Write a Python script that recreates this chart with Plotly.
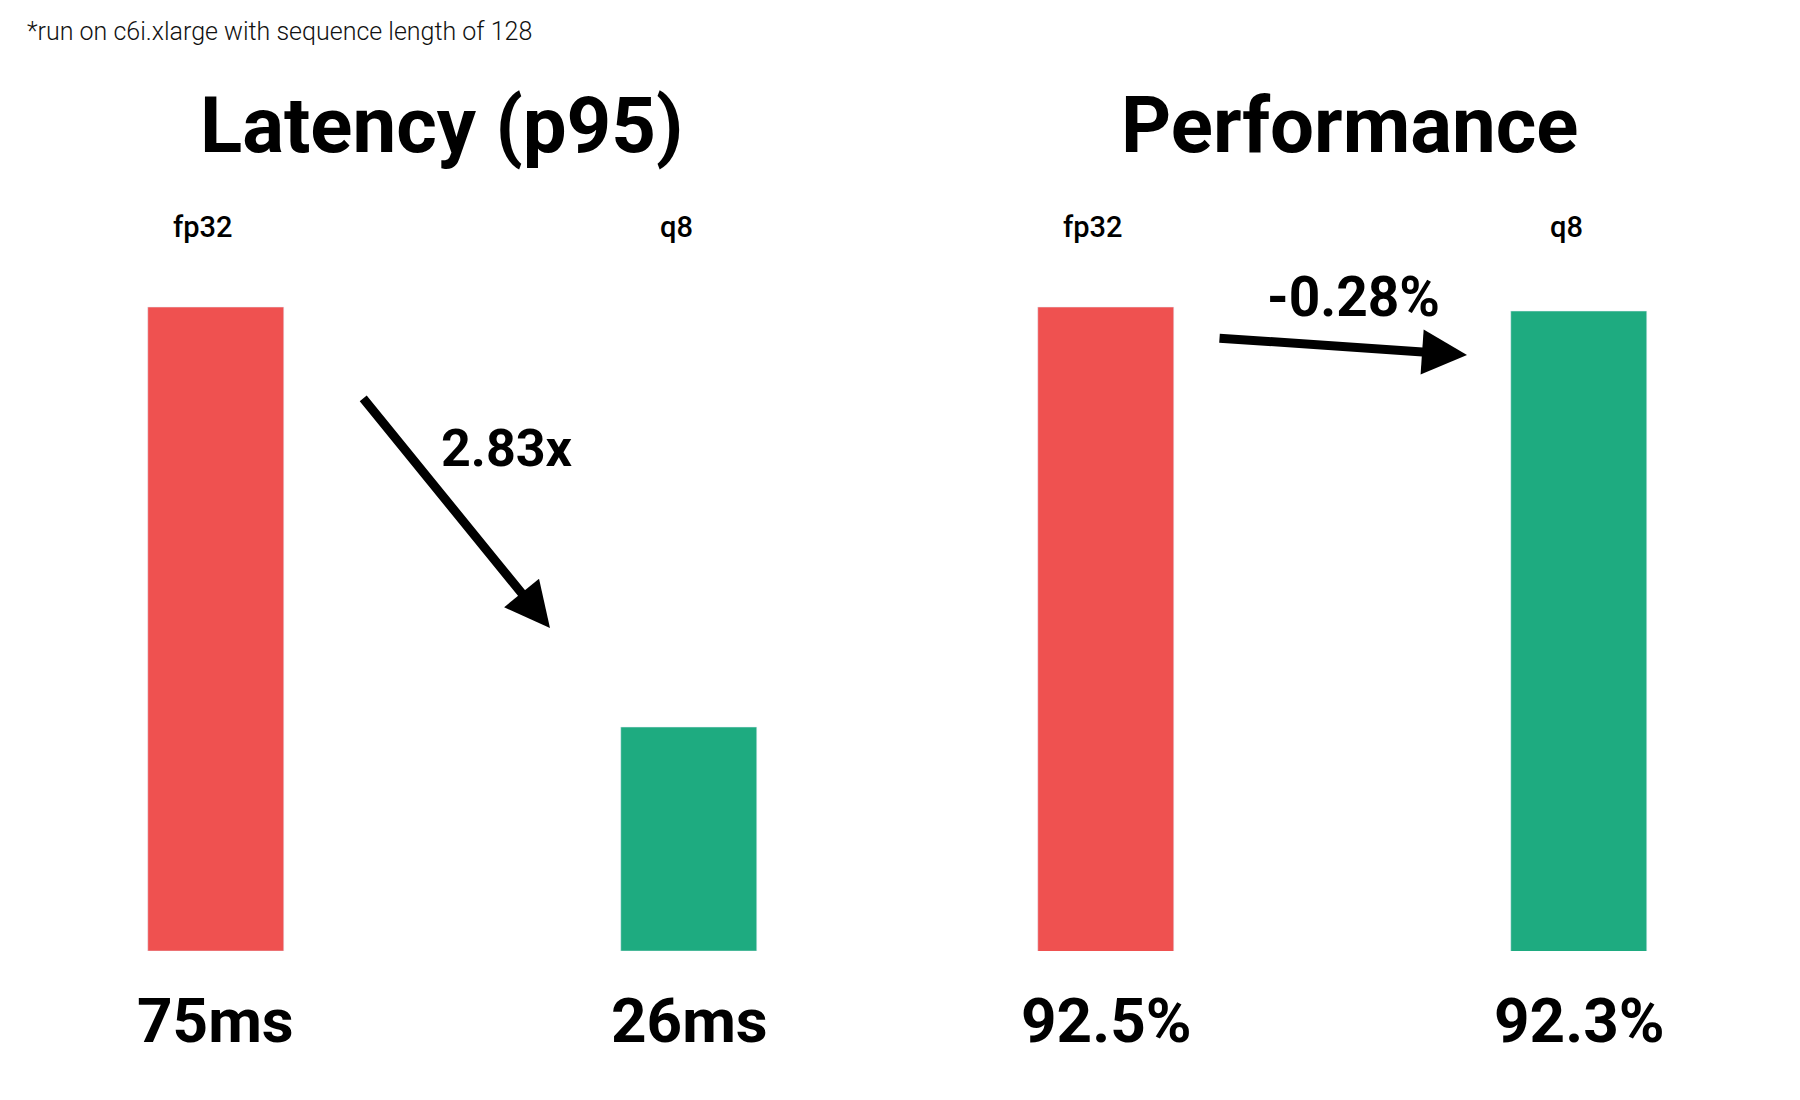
import plotly.graph_objects as go

# data
models = ["fp32", "q8"]
latency_ms = [75, 26]
performance_pct = [92.5, 92.3]
latency_labels = ["75ms", "26ms"]
performance_labels = ["92.5%", "92.3%"]
speedup_label = "2.83x"
perf_change_label = "-0.28%"
note = "*run on c6i.xlarge with sequence length of 128"

RED = "#ef5150"
GREEN = "#1eab80"
FONT = "Roboto"
bar_colors = [RED, GREEN]

fig = go.Figure()

fig.add_trace(
    go.Bar(x=models, y=latency_ms, width=0.2875, marker_color=bar_colors,
           xaxis="x", yaxis="y", hoverinfo="skip")
)
fig.add_trace(
    go.Bar(x=models, y=performance_pct, width=0.2875, marker_color=bar_colors,
           xaxis="x2", yaxis="y2", hoverinfo="skip")
)

hidden = dict(visible=False, showgrid=False, zeroline=False, fixedrange=True)

annotations = []

# note at the top left
annotations.append(dict(
    text=note, xref="paper", yref="paper", x=0.0094, y=0.979,
    xanchor="left", yanchor="middle", showarrow=False,
    font=dict(family=FONT, size=25, color="#111", weight=300),
))

# panel titles
for title, xc in [("Latency (p95)", 0.2411), ("Performance", 0.745)]:
    annotations.append(dict(
        text=title, xref="paper", yref="paper", x=xc, y=0.893,
        xanchor="center", yanchor="middle", showarrow=False,
        font=dict(family=FONT, size=78, color="#000", weight=700),
    ))

# category names above, values below
for ax, labels in [("x", latency_labels), ("x2", performance_labels)]:
    for m, lab in zip(models, labels):
        annotations.append(dict(
            text=m, xref=ax, yref="paper", x=m, y=0.801, xshift=-13,
            xanchor="center", yanchor="middle", showarrow=False,
            font=dict(family=FONT, size=29, color="#000", weight=500),
        ))
        annotations.append(dict(
            text=lab, xref=ax, yref="paper", x=m, y=0.0796,
            xanchor="center", yanchor="middle", showarrow=False,
            font=dict(family=FONT, size=62, color="#000", weight=700),
        ))

# arrows
annotations.append(dict(
    text="", xref="x", yref="y", axref="x", ayref="y",
    x=0.7061, y=37.62, ax=0.3087, ay=64.52,
    showarrow=True, arrowhead=2, arrowsize=1, arrowwidth=9, arrowcolor="#000",
))
annotations.append(dict(
    text=speedup_label, xref="x", yref="y", x=0.6152, y=58.5,
    showarrow=False, xanchor="center", yanchor="middle",
    font=dict(family=FONT, size=52, color="#000", weight=700),
))
annotations.append(dict(
    text="", xref="x2", yref="y2", axref="x2", ayref="y2",
    x=0.7632, y=90.07, ax=0.2368, ay=90.93,
    showarrow=True, arrowhead=2, arrowsize=1, arrowwidth=9, arrowcolor="#000",
))
annotations.append(dict(
    text=perf_change_label, xref="x2", yref="y2", x=0.5222, y=93.0,
    showarrow=False, xanchor="center", yanchor="middle",
    font=dict(family=FONT, size=55, color="#000", weight=700),
))

fig.update_layout(
    width=1800,
    height=1100,
    margin=dict(l=0, r=0, t=0, b=0),
    paper_bgcolor="white",
    plot_bgcolor="white",
    showlegend=False,
    bargap=0,
    xaxis=dict(domain=[0, 0.5], range=[-0.4397, 1.4630], type="category", **hidden),
    xaxis2=dict(domain=[0.5, 1], range=[-0.4186, 1.4841], type="category", **hidden),
    yaxis=dict(domain=[0.14273, 0.92336], range=[0, 100], **hidden),
    yaxis2=dict(domain=[0.14273, 0.92336], range=[60, 103.33], anchor="x2", **hidden),
    annotations=annotations,
)

fig.write_html("out.html")
